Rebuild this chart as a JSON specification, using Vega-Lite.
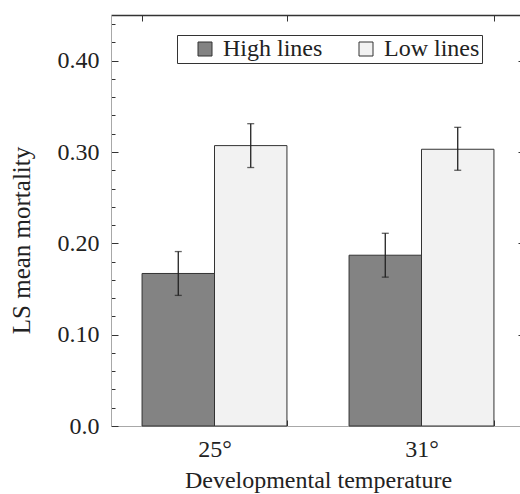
{
  "$schema": "https://vega.github.io/schema/vega-lite/v6.json",
  "width": 414,
  "height": 411,
  "autosize": {"type": "none"},
  "padding": {"left": 111, "top": 15, "right": -5, "bottom": 68},
  "data": {
    "values": [
      {"temp": "25°", "line": "High lines", "mean": 0.167, "lo": 0.143, "hi": 0.191},
      {"temp": "25°", "line": "Low lines", "mean": 0.307, "lo": 0.283, "hi": 0.331},
      {"temp": "31°", "line": "High lines", "mean": 0.187, "lo": 0.163, "hi": 0.211},
      {"temp": "31°", "line": "Low lines", "mean": 0.303, "lo": 0.280, "hi": 0.327}
    ]
  },
  "config": {
    "font": "Liberation Serif",
    "view": {"stroke": null},
    "axis": {
      "labelColor": "#222",
      "titleColor": "#222",
      "titleFontWeight": "normal",
      "tickColor": "#333",
      "grid": false
    }
  },
  "layer": [
    {
      "mark": {"type": "bar", "stroke": "#333", "strokeWidth": 1},
      "encoding": {
        "x": {
          "field": "temp", "type": "nominal", "sort": null,
          "scale": {"paddingInner": 0.3, "paddingOuter": 0.15},
          "axis": {
            "orient": "bottom", "title": "Developmental temperature", "labelAngle": 0,
            "labelFont": "Liberation Serif", "labelFontSize": 24, "titleFont": "Liberation Serif", "titleFontSize": 24,
            "domainColor": "#a8a8a8", "tickBand": "extent", "tickSize": -6,
            "labelPadding": 17, "titleX": 207, "titleY": 61, "titleBaseline": "alphabetic", "titleAlign": "center"
          }
        },
        "xOffset": {"field": "line", "type": "nominal", "sort": ["High lines", "Low lines"], "scale": {"paddingInner": 0, "paddingOuter": 0}},
        "y": {
          "field": "mean", "type": "quantitative",
          "scale": {"domain": [0, 0.45], "nice": false},
          "axis": {
            "orient": "left", "title": "LS mean mortality",
            "labelFont": "Liberation Serif", "labelFontSize": 24, "titleFont": "Liberation Serif", "titleFontSize": 25,
            "values": [0, 0.02, 0.04, 0.06, 0.08, 0.1, 0.12, 0.14, 0.16, 0.18, 0.2, 0.22, 0.24, 0.26, 0.28, 0.3, 0.32, 0.34, 0.36, 0.38, 0.4, 0.42, 0.44],
            "labelExpr": "abs(datum.value*10 - round(datum.value*10)) < 0.000001 ? (datum.value == 0 ? '0.0' : format(datum.value, '.2f')) : ''",
            "tickSize": {"condition": {"test": "abs(datum.value*10 - round(datum.value*10)) < 0.000001", "value": -7}, "value": -4},
            "domainColor": "#a8a8a8", "labelPadding": 19,
            "titleX": -82, "titleY": 225, "titleBaseline": "alphabetic", "titleAngle": -90, "titleAlign": "center"
          }
        },
        "color": {
          "field": "line", "type": "nominal",
          "scale": {"domain": ["High lines", "Low lines"], "range": ["#838383", "#f2f2f2"]},
          "legend": {
            "orient": "none", "legendX": 66, "legendY": 20, "direction": "horizontal", "title": null,
            "strokeColor": "#333", "fillColor": "#ffffff", "padding": 2,
            "symbolType": "square", "symbolSize": 196, "symbolStrokeColor": "#333", "symbolStrokeWidth": 1,
            "symbolOpacity": 1, "symbolOffset": 14, "labelOffset": 6, "columnPadding": 17,
            "labelFont": "Liberation Serif", "labelFontSize": 24, "labelColor": "#222"
          }
        }
      }
    },
    {
      "mark": {"type": "rule", "color": "#222", "strokeWidth": 1.3},
      "encoding": {
        "x": {
          "field": "temp", "type": "nominal", "sort": null,
          "axis": {"orient": "top", "labels": false, "title": null, "domainColor": "#333", "domainWidth": 1.5, "tickBand": "extent", "tickSize": -6}
        },
        "xOffset": {"field": "line", "type": "nominal", "sort": ["High lines", "Low lines"]},
        "y": {
          "field": "lo", "type": "quantitative", "scale": {"domain": [0, 0.45], "nice": false},
          "axis": {"orient": "right", "labels": false, "title": null, "domain": false, "values": [0.1, 0.2, 0.3, 0.4], "tickSize": -7}
        },
        "y2": {"field": "hi"}
      }
    },
    {
      "mark": {"type": "tick", "color": "#222", "thickness": 1.3, "size": 7},
      "encoding": {
        "x": {"field": "temp", "type": "nominal", "sort": null, "axis": null},
        "xOffset": {"field": "line", "type": "nominal", "sort": ["High lines", "Low lines"]},
        "y": {"field": "hi", "type": "quantitative", "scale": {"domain": [0, 0.45], "nice": false}, "axis": null}
      }
    },
    {
      "mark": {"type": "tick", "color": "#222", "thickness": 1.3, "size": 7},
      "encoding": {
        "x": {"field": "temp", "type": "nominal", "sort": null, "axis": null},
        "xOffset": {"field": "line", "type": "nominal", "sort": ["High lines", "Low lines"]},
        "y": {"field": "lo", "type": "quantitative", "scale": {"domain": [0, 0.45], "nice": false}, "axis": null}
      }
    }
  ],
  "resolve": {"axis": {"x": "independent", "y": "independent"}}
}
